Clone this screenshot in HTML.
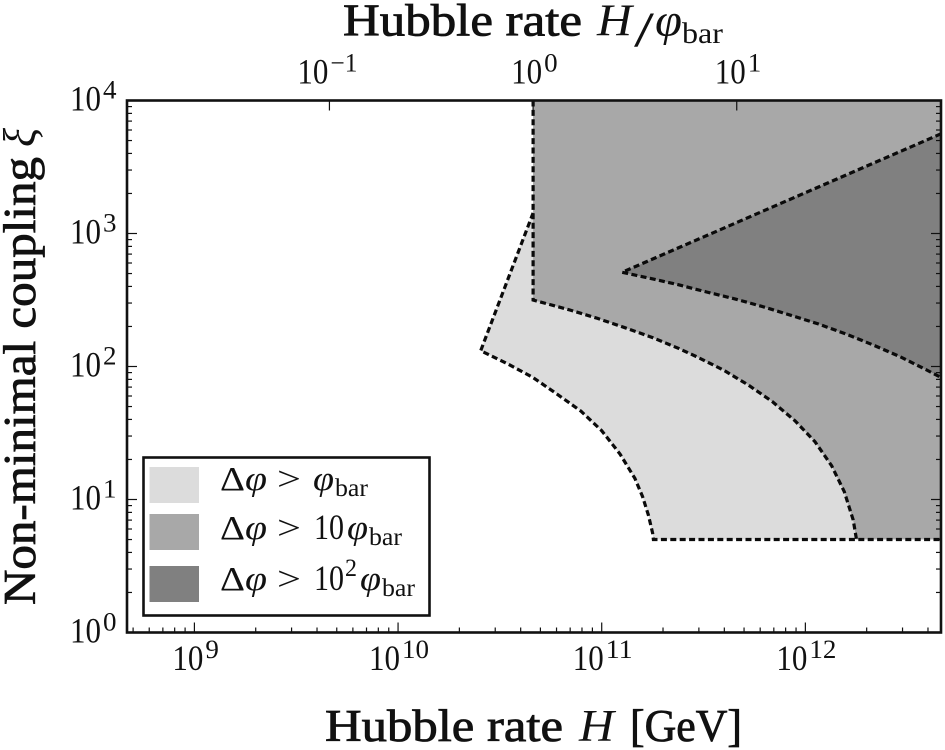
<!DOCTYPE html>
<html lang="en">
<head>
<meta charset="utf-8">
<title>Non-minimal coupling vs Hubble rate</title>
<style>
html,body{margin:0;padding:0;background:#fff;}
svg{display:block;font-family:"Liberation Serif",serif;}
text{fill:#111;}
</style>
</head>
<body>
<svg id="chart" width="945" height="750" viewBox="0 0 945 750" xmlns="http://www.w3.org/2000/svg"></svg>
<script>
// log10 values
const bottomTickDecades = [9, 10, 11, 12];
const topTickDecades = [-1, 0, 1];
const leftTickDecades = [0, 1, 2, 3, 4];
const minorMultipliers = [2, 3, 4, 5, 6, 7, 8, 9];
const xDomain = [8.669, 12.666];
const yDomain = [0, 4];
const barrierLogH = 10.663;
const floorLogXi = 0.699;

const lightLogH  = [10.663, 10.406, 10.533, 10.661, 10.782, 10.898, 11.000, 11.090, 11.163, 11.201, 11.229, 11.250, 11.254, 12.666];
const lightLogXi = [3.154, 2.119, 2.024, 1.919, 1.791, 1.665, 1.517, 1.342, 1.159, 1.021, 0.883, 0.748, 0.699, 0.699];

const mediumLogH  = [10.663, 10.663, 10.844, 10.980, 11.114, 11.250, 11.381, 11.466, 11.597, 11.720, 11.838, 11.949, 12.047, 12.129, 12.191, 12.235, 12.251];
const mediumLogXi = [4, 2.5, 2.425, 2.362, 2.292, 2.217, 2.134, 2.074, 1.974, 1.861, 1.735, 1.592, 1.435, 1.254, 1.059, 0.846, 0.699];

const darkLogH  = [12.666, 11.100, 11.237, 11.376, 11.515, 11.654, 11.790, 11.929, 12.063, 12.199, 12.333, 12.465, 12.596, 12.666];
const darkLogXi = [3.750, 2.708, 2.663, 2.615, 2.560, 2.508, 2.450, 2.385, 2.320, 2.244, 2.162, 2.074, 1.974, 1.917];

const legendLabels = ["", "10", "10"];
const legendSups = ["", "", "2"];

const svg = document.getElementById('chart');
const NS = 'http://www.w3.org/2000/svg';
const plot = {left: 127, right: 941, top: 100.5, bottom: 632.5};
function xPos(v){ return plot.left + (v - xDomain[0]) / (xDomain[1] - xDomain[0]) * (plot.right - plot.left); }
function yPos(v){ return plot.bottom - (v - yDomain[0]) / (yDomain[1] - yDomain[0]) * (plot.bottom - plot.top); }
function topPos(v){ return xPos(v + barrierLogH); }

function mk(tag, attrs, parent){
  const el = document.createElementNS(NS, tag);
  for (const k in attrs) el.setAttribute(k, attrs[k]);
  (parent || svg).appendChild(el);
  return el;
}
function txt(name, s, x, y, size, opts, parent){
  opts = opts || {};
  const a = {x: x, y: y, 'font-size': size};
  if (opts.w) { a.textLength = opts.w; a.lengthAdjust = 'spacingAndGlyphs'; }
  if (opts.heavy) { a.stroke = '#111'; a['stroke-width'] = opts.heavy; }
  if (opts.italic) a['font-style'] = 'italic';
  if (opts.rot) a.transform = 'rotate(-90 ' + x + ' ' + y + ')';
  const el = mk('text', a, parent);
  el.textContent = s;
  
  
  return el;
}
function pts(hs, xs){ return hs.map((h, i) => xPos(h).toFixed(1) + ',' + yPos(xs[i]).toFixed(1)); }

// clip
const defs = mk('defs', {});
const clip = mk('clipPath', {id: 'plot-clip'}, defs);
mk('rect', {x: plot.left, y: plot.top, width: plot.right - plot.left, height: plot.bottom - plot.top}, clip);

const regions = mk('g', {'clip-path': 'url(#plot-clip)'});



const topRightCorner = xPos(xDomain[1]).toFixed(1) + ',' + yPos(yDomain[1]).toFixed(1);
const barrierTop = xPos(lightLogH[0]).toFixed(1) + ',' + yPos(yDomain[1]).toFixed(1);
const floorRight = xPos(xDomain[1]).toFixed(1) + ',' + yPos(floorLogXi).toFixed(1);

const lightRegion = mk('polygon', {points: pts(lightLogH, lightLogXi).join(' ') + ' ' + topRightCorner + ' ' + barrierTop, fill: '#dcdcdc'}, regions);



const mediumRegion = mk('polygon', {points: pts(mediumLogH, mediumLogXi).join(' ') + ' ' + floorRight + ' ' + topRightCorner, fill: '#a8a8a8'}, regions);



const darkRegion = mk('polygon', {points: pts(darkLogH, darkLogXi).join(' '), fill: '#808080'}, regions);



const dashStyle = {fill: 'none', stroke: '#0a0a0a', 'stroke-width': 3.2, 'stroke-dasharray': '6 3.4'};
const lightLine = mk('polyline', Object.assign({points: pts(lightLogH, lightLogXi).join(' ')}, dashStyle), regions);


const mediumLine = mk('polyline', Object.assign({points: pts(mediumLogH, mediumLogXi).join(' ')}, dashStyle), regions);


const darkLine = mk('polyline', Object.assign({points: pts(darkLogH, darkLogXi).join(' ')}, dashStyle), regions);



// ticks
const ticks = mk('g', {stroke: '#111', 'stroke-width': 1.2});


function tick(x1, y1, x2, y2){ mk('line', {x1: x1, y1: y1, x2: x2, y2: y2}, ticks); }
const MAJOR = 10, MINOR = 5;
function inX(v){ return v >= xDomain[0] && v <= xDomain[1]; }
for (let d = 8; d <= 12; d++) {
  if (inX(d)) {
    tick(xPos(d), plot.bottom, xPos(d), plot.bottom - MAJOR);
  }
  minorMultipliers.forEach(m => {
    const v = d + Math.log10(m);
    if (inX(v)) tick(xPos(v), plot.bottom, xPos(v), plot.bottom - MINOR);
  });
}
topTickDecades.forEach(d => tick(topPos(d), plot.top, topPos(d), plot.top + MAJOR));
for (let d = 0; d < 5; d++) {
  tick(plot.left, yPos(d), plot.left + MAJOR, yPos(d));
  tick(plot.right, yPos(d), plot.right - MAJOR, yPos(d));
  if (d < 4) minorMultipliers.forEach(m => {
    const v = d + Math.log10(m);
    tick(plot.left, yPos(v), plot.left + MINOR, yPos(v));
    tick(plot.right, yPos(v), plot.right - MINOR, yPos(v));
  });
}

// frame
const frame = mk('rect', {x: plot.left, y: plot.top, width: plot.right - plot.left, height: plot.bottom - plot.top, fill: 'none', stroke: '#111', 'stroke-width': 2.6});



// tick labels
const BASE = 36, SUP = 26;
function powerLabel(name, exp, x, y){
  const s = String(exp).replace('-', '\u2212');
  txt(name + '-base', '10', x, y, BASE, {w: 31});
  txt(name + '-exp', s, x + 33, y - 12, SUP, {w: s.length * 13.5});
}
bottomTickDecades.forEach(d => {
  const n = String(d).length;
  powerLabel('x-tick-label-' + d, d, xPos(d) - (n === 1 ? 22 : 29), 670);
});
topTickDecades.forEach(d => {
  const n = String(d).length;
  powerLabel('top-tick-label-' + d, d, topPos(d) - (n === 1 ? 22 : 32), 83.5);
});
leftTickDecades.forEach(d => {
  powerLabel('y-tick-label-' + d, d, 70, yPos(d) + 9.8);
});

// axis titles
const HEAVY = 0.8;
txt('x-axis-title-words', 'Hubble rate', 325, 741, 45, {heavy: HEAVY, w: 238});
txt('x-axis-title-symbol', 'H', 579, 741, 45, {italic: true, w: 35});
txt('x-axis-title-unit', '[GeV]', 630, 741, 45, {heavy: HEAVY, w: 112});

txt('top-axis-title-words', 'Hubble rate', 343, 35.5, 45, {heavy: HEAVY, w: 239});
txt('top-axis-title-symbol', 'H', 597, 35.5, 45, {italic: true, w: 35});
txt('top-axis-title-slash', '/', 634, 46, 50, {w: 20});
txt('top-axis-title-phi', '\u03C6', 655, 35.5, 45, {italic: true, w: 27});
txt('top-axis-title-sub', 'bar', 682, 43, 30, {w: 41});

txt('y-axis-title-words', 'Non-minimal coupling', 35, 605, 45, {heavy: HEAVY, rot: true, w: 448});
txt('y-axis-title-symbol', '\u03BE', 35, 147, 45, {italic: true, rot: true, w: 19});

// legend
const legend = mk('g', {});


const legendBox = mk('rect', {x: 143.5, y: 457.5, width: 286, height: 158, fill: '#fff', stroke: '#111', 'stroke-width': 2.6}, legend);


const swatchColors = ['#dcdcdc', '#a8a8a8', '#808080'];
const swatchTops = [467, 514, 566];
const baselines = [490, 539, 590];
const phiX = [313, 347, 360];
swatchColors.forEach((c, i) => {
  const sw = mk('rect', {x: 149.5, y: swatchTops[i], width: 49.5, height: 36, fill: c}, legend);
  
  
  const y = baselines[i];
  txt('legend-delta', '\u0394', 220, y, 34, {w: 25}, legend);
  txt('legend-phi', '\u03C6', 245, y, 34, {italic: true, w: 22}, legend);
  txt('legend-gt', '>', 277, y, 34, {w: 24}, legend);
  if (legendLabels[i]) txt('legend-ten', legendLabels[i], 314, y, 36, {w: 30}, legend);
  if (legendSups[i]) txt('legend-exp', legendSups[i], 345, y - 14, 25, {w: 12}, legend);
  txt('legend-phi', '\u03C6', phiX[i], y, 34, {italic: true, w: 21}, legend);
  txt('legend-sub', 'bar', phiX[i] + 22, y + 6, 25, {w: 33}, legend);
});
</script>
</body>
</html>
